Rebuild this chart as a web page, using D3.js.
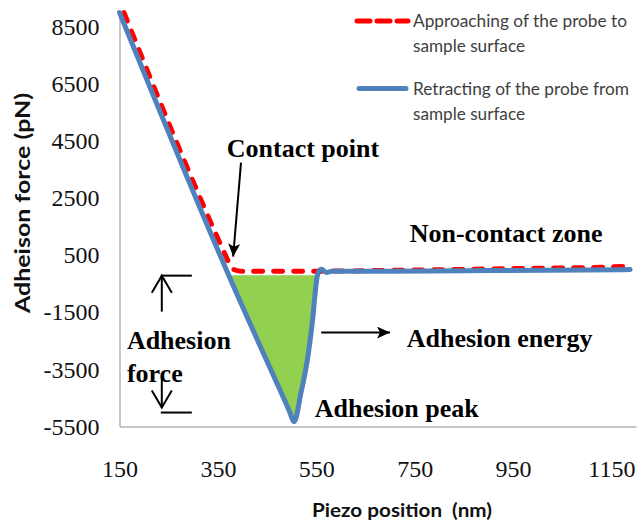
<!DOCTYPE html>
<html><head><meta charset="utf-8">
<script src="https://cdn.jsdelivr.net/npm/d3@7"></script>
<style>html,body{margin:0;padding:0;background:#fff;} svg{display:block;}
.tick text{font-family:'Liberation Serif','Times New Roman',serif !important;}
</style>
</head><body>
<svg id="chart" width="637" height="530"></svg>
<script>
// ---- data ----
const xTicks = [150, 350, 550, 750, 950, 1150];
const yTicks = [-5500, -3500, -1500, 500, 2500, 4500, 6500, 8500];

// Approaching of the probe (red dashed)
const approachX = [159, 368, 376, 385, 398, 553, 750, 950, 1150, 1195];
const approachY = [9000, 400, 100, -20, -65, -60, -20, 30, 90, 130];

// Retracting of the probe (blue)
const retractX = [150, 372, 495, 505, 519, 532, 541, 552.5, 557, 561, 566, 571, 581, 700, 900, 1100, 1188];
const retractY = [9000, -200, -4944, -5330, -4311, -3156, -2001, -200, -20, 10, -60, -110, -65, -60, -40, -20, -5];

// adhesion energy region (under the contact level)
const energyRange = [372, 552.5];
const energyLevel = -200;

const seriesNames = ["Approaching of the probe to", "sample surface", "Retracting of the probe from", "sample surface"];

// annotations in data units
const annoTexts = [
  {text: "Contact point", x: 368, y: 3950},
  {text: "Non-contact zone", x: 740, y: 975},
  {text: "Adhesion energy", x: 734, y: -2700},
  {text: "Adhesion peak", x: 547, y: -5150},
  {text: "Adhesion", x: 165, y: -2770},
  {text: "force", x: 165, y: -3925}
];
const contactArrow = [[397, 3740], [381, 450]];
const energyArrow = [[560, -2210], [700, -2210]];
const forceUp = {x: 236, from: -1476, to: -216, barFrom: 234, barTo: 297};
const forceDown = {x: 236, from: -3786, to: -4836, bar: -5011, barFrom: 234, barTo: 297};

// ---- drawing ----
const svg = d3.select('#chart');
const x = d3.scaleLinear().domain([150, 1200]).range([119.5, 636]);
const y = d3.scaleLinear().domain([-5500, 9000]).range([426.5, 12.5]);

const serif = "'Liberation Serif','Times New Roman',serif";
const sans = "Lato,'Open Sans',sans-serif";

// axes
const yAxis = svg.append('g').attr('transform', `translate(${x(150)},0)`)
  .call(d3.axisLeft(y).tickValues(yTicks).tickSize(0).tickSizeOuter(0).tickPadding(20).tickFormat(d => d < 0 ? '-' + Math.abs(d) : String(d)));
const xAxis = svg.append('g').attr('transform', `translate(0,${y(-5500)})`)
  .call(d3.axisBottom(x).tickValues(xTicks).tickSize(0).tickSizeOuter(0).tickPadding(33).tickFormat(d => String(d)));
[yAxis, xAxis].forEach(g => {
  g.attr('font-family', serif).attr('font-size', 24);
  g.select('.domain').attr('stroke', '#B4B4B4').attr('stroke-width', 1.5);
  g.selectAll('.tick text').style('font-family', serif).style('font-size', '24px').attr('fill', '#111');
});

// green adhesion energy area
const retract = retractX.map((v, i) => [v, retractY[i]]);
const approach = approachX.map((v, i) => [v, approachY[i]]);
const energyPts = retract.filter(d => d[0] >= energyRange[0] && d[0] <= energyRange[1]);
svg.append('path').datum(energyPts)
  .attr('d', d3.area().x(d => x(d[0])).y0(y(energyLevel)).y1(d => y(d[1])).curve(d3.curveMonotoneX))
  .attr('fill', '#92D050');

const line = d3.line().x(d => x(d[0])).y(d => y(d[1])).curve(d3.curveMonotoneX);
svg.append('path').datum(approach).attr('d', line)
  .attr('fill', 'none').attr('stroke', '#FF0000').attr('stroke-width', 5)
  .attr('stroke-dasharray', '9,11').attr('stroke-linecap', 'round').attr('stroke-linejoin', 'round');
svg.append('path').datum(retract).attr('d', line)
  .attr('fill', 'none').attr('stroke', '#4F81BD').attr('stroke-width', 5)
  .attr('stroke-linejoin', 'round').attr('stroke-linecap', 'round');

// legend
const lg = svg.append('g');
lg.append('line').attr('x1', 357).attr('x2', 408).attr('y1', 21).attr('y2', 21)
  .attr('stroke', '#FF0000').attr('stroke-width', 5).attr('stroke-linecap', 'round').attr('stroke-dasharray', '13,7');
lg.append('line').attr('x1', 359).attr('x2', 406).attr('y1', 88.5).attr('y2', 88.5)
  .attr('stroke', '#4F81BD').attr('stroke-width', 5).attr('stroke-linecap', 'round');
const legendRows = [
  {t: seriesNames[0], y: 27, w: 214},
  {t: seriesNames[1], y: 52, w: 112},
  {t: seriesNames[2], y: 95, w: 216},
  {t: seriesNames[3], y: 120, w: 112}
];
lg.selectAll('text.lt').data(legendRows).join('text').attr('class', 'lt')
  .attr('x', 413).attr('y', d => d.y).text(d => d.t)
  .attr('font-family', sans).attr('font-size', 17).attr('fill', '#404040')
  .attr('textLength', d => d.w).attr('lengthAdjust', 'spacingAndGlyphs');

// axis titles
svg.append('text').attr('transform', 'translate(30,203) rotate(-90)')
  .attr('text-anchor', 'middle').attr('font-family', sans).attr('font-weight', 'bold')
  .attr('font-size', 21).attr('fill', '#111')
  .attr('textLength', 220).attr('lengthAdjust', 'spacingAndGlyphs')
  .text('Adheison force (pN)');
svg.append('text').attr('x', 402).attr('y', 517)
  .attr('text-anchor', 'middle').attr('font-family', sans).attr('font-weight', 'bold')
  .attr('font-size', 18).attr('fill', '#111').style('white-space', 'pre')
  .attr('textLength', 180).attr('lengthAdjust', 'spacingAndGlyphs')
  .text('Piezo position  (nm)');

// annotation texts
svg.selectAll('text.anno').data(annoTexts).join('text').attr('class', 'anno')
  .attr('x', d => x(d.x)).attr('y', d => y(d.y)).text(d => d.text)
  .attr('font-family', serif).attr('font-weight', 'bold').attr('font-size', 26).attr('fill', '#000');

// arrows
const defs = svg.append('defs');
defs.append('marker').attr('id', 'ah').attr('markerUnits', 'userSpaceOnUse')
  .attr('markerWidth', 14).attr('markerHeight', 12).attr('refX', 13).attr('refY', 6)
  .attr('orient', 'auto')
  .append('path').attr('d', 'M0,0 L13,6 L0,12 L3,6 Z').attr('fill', '#000');

[contactArrow, energyArrow].forEach(a => {
  svg.append('line')
    .attr('x1', x(a[0][0])).attr('y1', y(a[0][1]))
    .attr('x2', x(a[1][0])).attr('y2', y(a[1][1]))
    .attr('stroke', '#000').attr('stroke-width', 2).attr('marker-end', 'url(#ah)');
});

function openArrow(fx, fromY, toY) {
  const px = x(fx), p1 = y(fromY), p2 = y(toY);
  const dir = p2 > p1 ? -1 : 1;
  svg.append('line').attr('x1', px).attr('x2', px).attr('y1', p1).attr('y2', p2)
    .attr('stroke', '#000').attr('stroke-width', 2);
  svg.append('path').attr('d', `M${px - 10},${p2 + dir * 17} L${px},${p2} L${px + 10},${p2 + dir * 17}`)
    .attr('fill', 'none').attr('stroke', '#000').attr('stroke-width', 2);
}
openArrow(forceUp.x, forceUp.from, forceUp.to);
svg.append('line').attr('x1', x(forceUp.barFrom)).attr('x2', x(forceUp.barTo))
  .attr('y1', y(forceUp.to)).attr('y2', y(forceUp.to)).attr('stroke', '#000').attr('stroke-width', 2);
openArrow(forceDown.x, forceDown.from, forceDown.to);
svg.append('line').attr('x1', x(forceDown.barFrom)).attr('x2', x(forceDown.barTo))
  .attr('y1', y(forceDown.bar)).attr('y2', y(forceDown.bar)).attr('stroke', '#000').attr('stroke-width', 2);
</script>
</body></html>
